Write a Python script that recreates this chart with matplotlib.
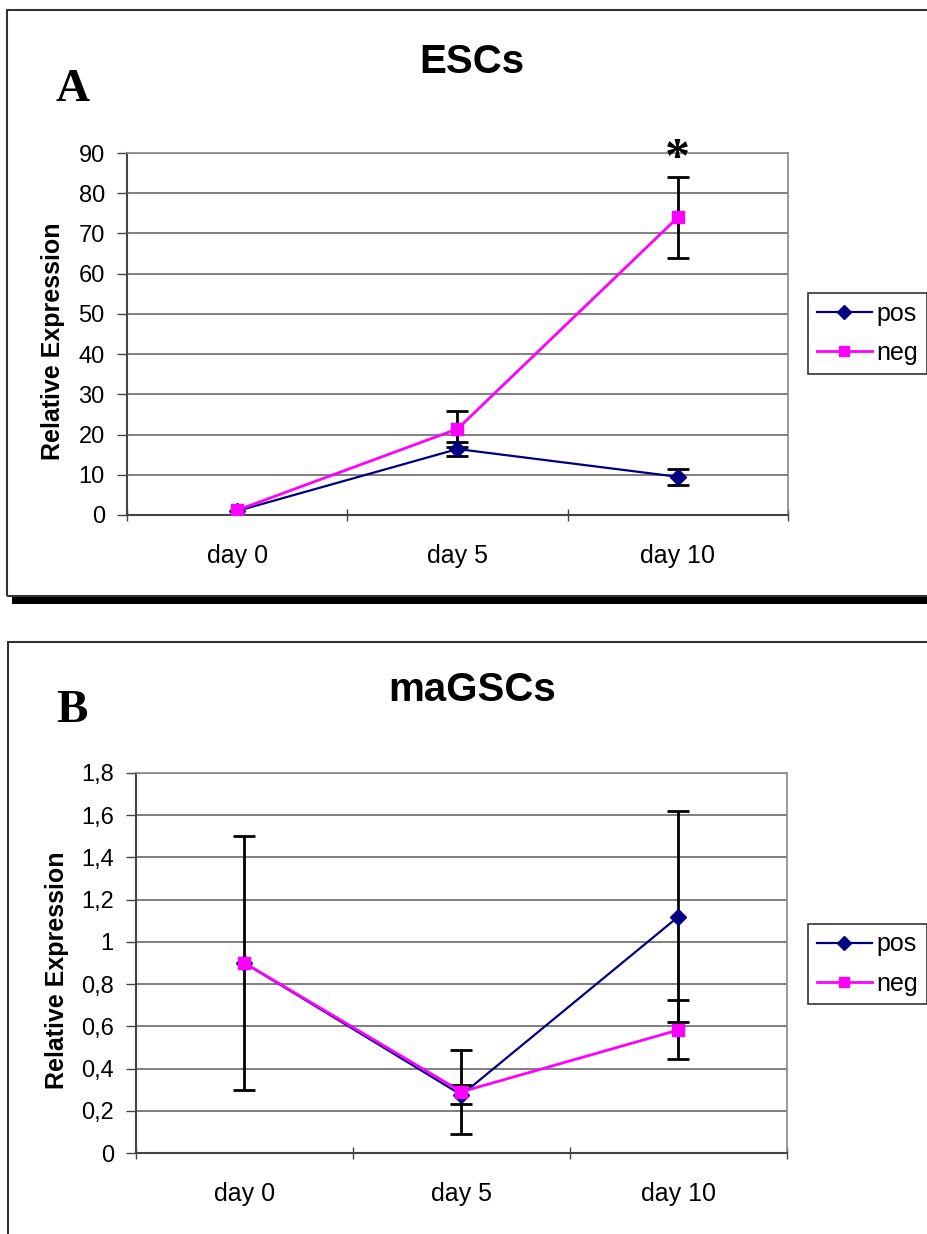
import matplotlib
matplotlib.use("Agg")
from matplotlib import pyplot as plt
from matplotlib.patches import Rectangle
from matplotlib.ticker import FuncFormatter

days = ["day 0", "day 5", "day 10"]

# ESCs
esc_pos = [1.0, 16.4, 9.5]
esc_pos_err = [0.0, 1.8, 2.0]
esc_neg = [1.2, 21.4, 74.0]
esc_neg_err = [0.0, 4.5, 10.1]

# maGSCs
gsc_pos = [0.9, 0.275, 1.12]
gsc_pos_err = [0.6, 0.045, 0.5]
gsc_neg = [0.9, 0.29, 0.583]
gsc_neg_err = [0.0, 0.2, 0.14]

W, H = 928, 1234
NAVY = "#000080"
MAGENTA = "#ff00ff"
GRID = "#6a6a6a"
SANS = "Liberation Sans"
SERIF = "Liberation Serif"

fig = plt.figure(figsize=(W / 100, H / 100), dpi=100)


def fx(px):
    return px / W


def fy(py):
    return 1 - py / H


def draw_err(ax, vals, errs):
    # skip points without a measured spread
    idx = [i for i, e in enumerate(errs) if e > 0]
    ax.errorbar(idx, [vals[i] for i in idx], yerr=[errs[i] for i in idx],
                color="black", lw=0, elinewidth=2, capsize=8, capthick=2,
                zorder=3)


def panel(rect, pos, pos_err, neg, neg_err, ymax, ystep, title, title_y,
          letter, letter_y, legend_box, ylabel_x, decimal_comma):
    left, top, right, bottom = rect
    ax = fig.add_axes([fx(left), fy(bottom), fx(right) - fx(left), fy(top) - fy(bottom)])
    x = list(range(len(days)))

    draw_err(ax, pos, pos_err)
    draw_err(ax, neg, neg_err)
    ax.plot(x, pos, color=NAVY, lw=1.6, marker="D", ms=8, mec=NAVY,
            mfc=NAVY, label="pos", zorder=4)
    ax.plot(x, neg, color=MAGENTA, lw=2, marker="s", ms=8, mec=MAGENTA,
            mfc=MAGENTA, label="neg", zorder=5)

    ax.set_xlim(-0.5, 2.5)
    ax.set_ylim(0, ymax)
    nticks = int(round(ymax / ystep)) + 1
    yt = [i * ystep for i in range(nticks)]
    ax.set_yticks(yt)
    if decimal_comma:
        ax.yaxis.set_major_formatter(FuncFormatter(
            lambda v, p: ("%g" % round(v, 2)).replace(".", ",")))
    ax.grid(axis="y", color=GRID, lw=1.2)
    ax.set_axisbelow(True)

    # category boundaries carry the tick marks, centres carry the labels
    ax.set_xticks([-0.5, 0.5, 1.5, 2.5])
    ax.set_xticklabels([])
    ax.set_xticks(x, minor=True)
    ax.set_xticklabels(days, minor=True, fontsize=18, fontfamily=SANS)
    ax.tick_params(axis="x", which="minor", length=0, pad=21)
    ax.tick_params(axis="x", which="major", length=8, direction="inout",
                   width=1, color="#444444")
    ax.tick_params(axis="y", length=7, width=1, color="#444444", pad=9,
                   labelsize=17)
    for lab in ax.get_yticklabels():
        lab.set_fontfamily(SANS)

    for side in ["top", "right"]:
        ax.spines[side].set_color("#888888")
        ax.spines[side].set_linewidth(1.2)
    for side in ["left", "bottom"]:
        ax.spines[side].set_color("#444444")
        ax.spines[side].set_linewidth(1.5)

    fig.text(fx(ylabel_x), fy((top + bottom) / 2 + 7), "Relative Expression",
             fontsize=18, fontweight="bold", fontfamily=SANS, rotation=90,
             ha="center", va="center")

    fig.text(fx(472), fy(title_y), title, fontsize=29, fontweight="bold",
             fontfamily=SANS, ha="center", va="center")
    fig.text(fx(56), fy(letter_y), letter, fontsize=34, fontweight="bold",
             fontfamily=SERIF, ha="left", va="baseline")

    bx0, by0, bx1, by1 = legend_box
    leg = ax.legend(loc="center", bbox_to_anchor=(fx(bx0), fy(by1), fx(bx1) - fx(bx0), fy(by0) - fy(by1)),
                    bbox_transform=fig.transFigure, frameon=True, fancybox=False,
                    prop={"family": SANS, "size": 18}, handlelength=2.2,
                    handletextpad=0.2, borderpad=0.35, labelspacing=0.6,
                    markerscale=0.9)
    leg.get_frame().set_edgecolor("black")
    leg.get_frame().set_linewidth(1.2)
    return ax


ax_a = panel((127, 153, 788, 515), esc_pos, esc_pos_err, esc_neg, esc_neg_err,
             90, 10, "ESCs", 62, "A", 101, (808, 292, 927, 375), 53, False)
ax_a.text(2, 88.3, "*", fontsize=36, fontweight="bold", fontfamily=SERIF,
          ha="center", va="center")

ax_b = panel((136, 773, 787, 1153), gsc_pos, gsc_pos_err, gsc_neg, gsc_neg_err,
             1.8, 0.2, "maGSCs", 690, "B", 722, (808, 922, 927, 1006), 57, True)

# panel frames and the heavy rule under the first panel
fig.add_artist(Rectangle((fx(7), fy(596)), 1.0, fy(10) - fy(596),
                         transform=fig.transFigure, fill=False,
                         edgecolor="#333333", lw=1.5))
fig.add_artist(Rectangle((fx(12), fy(604)), 1.0, fy(597) - fy(604),
                         transform=fig.transFigure, facecolor="black",
                         edgecolor="none"))
fig.add_artist(Rectangle((fx(8), -0.05), 1.0, fy(642) + 0.05,
                         transform=fig.transFigure, fill=False,
                         edgecolor="#333333", lw=1.5))

fig.savefig("out.png", dpi=100)
